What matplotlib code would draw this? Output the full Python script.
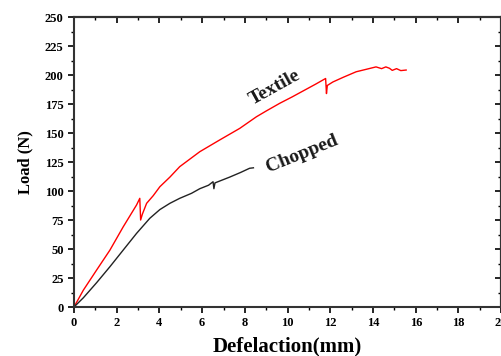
import matplotlib.pyplot as plt
from matplotlib.ticker import MultipleLocator

plt.rcParams['font.family'] = ['Liberation Serif', 'DejaVu Serif']
plt.rcParams['font.weight'] = 'bold'

# Textile curve, deflection [mm] and load [N]
textile_x = [0, 0.44, 1.06, 1.68, 2.3, 2.93, 3.08, 3.12, 3.2, 3.4, 3.71, 4.02, 4.49, 4.95,
             5.89, 6.82, 7.76, 8.54, 9.0, 9.63, 10.2, 10.8, 11.3, 11.78, 11.82, 11.86,
             12.12, 12.6, 13.21, 13.7, 14.14, 14.4, 14.6, 14.77, 14.9, 15.1, 15.3, 15.55]
textile_y = [0, 14.6, 31.9, 49, 69, 88, 93.7, 75, 80, 89.4, 96, 103.7, 112, 121,
             133.9, 144, 154, 164, 169, 175.6, 181, 187, 192, 197, 184, 191,
             194, 198, 202.8, 205, 207, 205.5, 207, 205.8, 204, 205.5, 203.8, 204.3]

# Chopped curve
chopped_x = [0, 0.44, 1.06, 1.68, 2.3, 2.93, 3.55, 4.02, 4.49, 4.95, 5.5, 5.89, 6.3, 6.51,
             6.55, 6.6, 7.29, 7.8, 8.22, 8.4]
chopped_y = [0, 8, 21, 34.7, 49, 63.5, 76.5, 84, 89.4, 93.7, 98, 102, 105, 108,
             102, 107, 112, 116, 119.6, 120]

fig = plt.figure(figsize=(5.02, 3.56), dpi=100)
ax = fig.add_axes([0.1474, 0.1376, 0.851, 0.8146])

ax.plot(textile_x, textile_y, color='red', lw=1.0)
ax.plot(chopped_x, chopped_y, color='#222222', lw=1.0)

ax.text(9.39, 189, 'Textile', rotation=29, fontsize=14, fontweight='bold',
        ha='center', va='center', color='#1a1a1a')
ax.text(10.7, 132, 'Chopped', rotation=22, fontsize=14, fontweight='bold',
        ha='center', va='center', color='#1a1a1a')

ax.set_xlim(0, 20)
ax.set_ylim(0, 250)
ax.xaxis.set_major_locator(MultipleLocator(2))
ax.xaxis.set_minor_locator(MultipleLocator(1))
ax.yaxis.set_major_locator(MultipleLocator(25))
ax.yaxis.set_minor_locator(MultipleLocator(12.5))
ax.tick_params(which='major', direction='out', length=4, width=1.2, labelsize=9)
ax.tick_params(which='minor', direction='out', length=2.5, width=1)

# inward ticks on top and right sides
top = ax.secondary_xaxis('top')
top.xaxis.set_major_locator(MultipleLocator(2))
top.xaxis.set_minor_locator(MultipleLocator(1))
top.tick_params(which='major', direction='in', length=4, width=1.2, labeltop=False)
top.tick_params(which='minor', direction='in', length=2.5, width=1)
right = ax.secondary_yaxis('right')
right.yaxis.set_major_locator(MultipleLocator(25))
right.yaxis.set_minor_locator(MultipleLocator(12.5))
right.tick_params(which='major', direction='in', length=4, width=1.2, labelright=False)
right.tick_params(which='minor', direction='in', length=2.5, width=1)

for s in ax.spines.values():
    s.set_linewidth(1.5)
    s.set_color('#333333')
top.spines['top'].set_linewidth(1.5)
right.spines['right'].set_linewidth(1.5)

ax.set_xlabel('Defelaction(mm)', fontsize=15, fontweight='bold', labelpad=5)
ax.set_ylabel('Load (N)', fontsize=12, fontweight='bold', labelpad=8)

fig.savefig('out.png', dpi=100)
